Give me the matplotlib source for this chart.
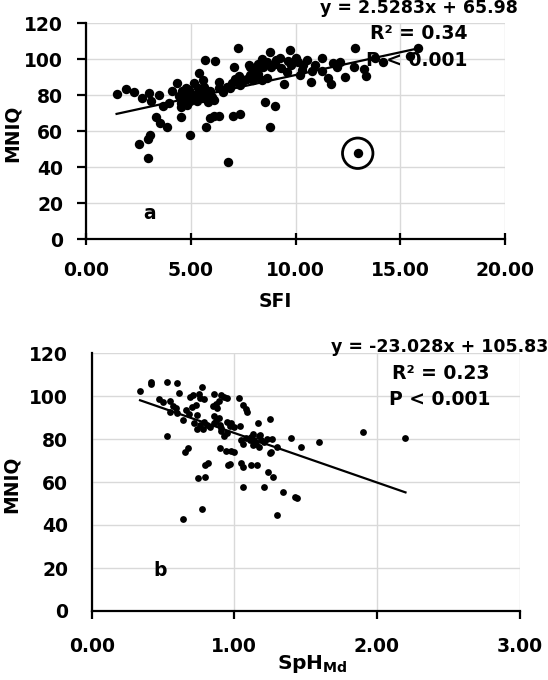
import matplotlib
matplotlib.use("Agg")
import matplotlib.pyplot as plt
import numpy as np

plt.rcParams['font.family'] = ['DejaVu Sans']
plt.rcParams['font.weight'] = 'bold'

# ---------------- Panel a data ----------------
sfi = [1.50, 1.89, 2.29, 2.66, 3.01, 3.12, 3.48, 3.68, 3.95, 4.12, 4.36,
       4.45, 4.55, 4.60, 4.70, 4.75, 4.80, 4.85, 4.95, 4.55, 4.90,
       4.52, 4.98, 5.16, 5.38, 5.68, 6.14, 5.60, 5.62,
       5.20, 5.30, 5.45, 5.55, 5.70, 5.80, 5.90, 6.00, 6.10, 5.35,
       6.36, 6.36, 6.52, 6.71, 6.87, 6.95, 7.06, 7.27, 7.12, 7.30, 7.45, 7.35, 7.55, 7.67, 7.80,
       5.72, 5.90, 6.10, 6.33, 7.03, 7.36, 6.77, 2.97, 2.55, 2.98, 3.05, 3.34, 3.53, 3.86,
       7.83, 7.83, 8.39, 8.78, 9.74, 8.39, 8.63, 9.47, 9.58,
       8.45, 8.65, 8.85, 9.05, 9.25, 9.00, 9.65, 9.80, 8.20, 8.10, 9.30, 10.00, 10.10,
       8.00, 8.20, 7.95,
       10.21, 10.29, 10.37, 10.56, 10.74, 10.77, 10.93, 11.25, 11.25, 11.57, 11.68,
       11.80, 12.12, 11.96, 12.36, 12.84, 12.79, 13.27, 13.36, 13.79, 14.19, 15.47, 15.86,
       8.54, 9.02, 8.78, 12.97]
mniq_a = [80.7, 83.3, 82.0, 78.5, 81.1, 76.6, 80.2, 74.1, 75.8, 82.3, 86.7,
          79.5, 76.0, 82.5, 78.0, 84.0, 74.5, 80.5, 77.0, 73.5, 83.0,
          67.7, 57.9, 87.0, 92.4, 99.6, 98.9, 88.5, 84.5,
          80.0, 77.0, 82.0, 78.5, 80.5, 76.5, 82.5, 79.0, 77.5, 84.0,
          87.6, 83.9, 82.0, 84.4, 83.9, 86.7, 95.9, 106.1, 89.0, 91.0, 87.5, 86.0, 88.5, 88.9, 96.8,
          62.4, 67.5, 68.5, 68.5, 68.3, 69.5, 42.7, 44.9, 52.9, 56.0, 57.7, 67.7, 64.8, 62.4,
          95.9, 91.3, 100.4, 104.3, 105.3, 88.5, 89.4, 86.1, 93.1,
          96.0, 98.5, 96.0, 99.5, 100.5, 97.5, 99.0, 97.0, 97.5, 93.5, 95.0, 100.5, 98.5,
          90.0, 92.0, 88.5,
          91.3, 94.1, 96.8, 99.6, 87.6, 93.5, 96.8, 100.9, 93.5, 89.8, 86.1,
          97.8, 98.7, 95.9, 90.3, 106.5, 95.9, 94.4, 90.9, 100.5, 98.3, 102.0, 106.5,
          76.4, 74.1, 62.2, 47.8]
outlier_a = (12.97, 47.8)
slope_a, icpt_a = 2.5283, 65.98
fit_range_a = (1.46, 15.86)
xticks_a = [0, 5, 10, 15, 20]

# ---------------- Panel b data ----------------
sph = [0.339, 0.414, 0.414, 0.530, 0.596, 0.610,
       0.47, 0.50, 0.55, 0.57, 0.59,
       0.55, 0.60, 0.64, 0.66, 0.68,
       0.69, 0.71, 0.75, 0.771, 0.76, 0.79,
       0.70, 0.73, 0.74, 0.72, 0.76, 0.74, 0.78, 0.79, 0.81, 0.83,
       0.86, 0.89, 0.87, 0.85, 0.88,
       0.91, 0.93, 0.95,
       0.86, 0.89, 0.90, 0.86, 0.87, 0.91,
       0.91, 0.93, 0.95,
       0.95, 0.98, 0.97, 1.00, 1.04,
       1.035, 1.06, 1.08, 1.09,
       1.05, 1.06, 1.08, 1.11, 1.12, 1.13, 1.14, 1.15, 1.17, 1.18, 1.19, 1.21, 1.23, 1.17, 1.13,
       0.90, 0.94, 0.98, 1.00,
       0.958, 0.97, 1.05, 1.06, 1.12, 1.157,
       1.25, 1.168, 1.255, 1.238, 1.274, 1.297, 1.398, 1.468, 1.339, 1.426, 1.437, 1.208, 1.059, 1.297,
       0.526, 0.654, 0.677, 0.795, 0.818, 0.748, 0.795, 0.771, 0.638,
       1.262, 1.596, 1.90, 2.197, 1.25]
mniq_b = [102.3, 106.7, 105.4, 106.7, 105.9, 101.5,
          98.5, 97.0, 97.5, 95.5, 94.5,
          92.5, 92.0, 89.0, 93.5, 91.5,
          99.5, 100.5, 101.0, 104.3, 99.0, 98.5,
          95.0, 96.0, 91.0, 87.5, 86.5, 84.5, 84.5, 88.0, 86.5, 85.5,
          101.0, 97.5, 96.5, 95.5, 94.5,
          100.5, 99.5, 99.0,
          90.5, 90.0, 86.5, 87.5, 88.5, 85.0,
          83.5, 81.5, 83.0,
          88.0, 87.5, 86.0, 85.5, 86.0,
          99.2, 95.8, 94.0, 92.7,
          79.5, 77.5, 80.5, 79.5, 81.0, 82.5, 79.5, 77.5, 81.5, 82.0, 79.5, 78.5, 80.0, 76.5, 77.0,
          76.0, 74.5, 74.5, 74.0,
          67.9, 68.5, 68.7, 66.8, 67.9, 67.9,
          89.2, 87.6, 74.1, 64.5, 62.5, 76.4, 80.6, 76.1, 55.5, 53.2, 52.4, 57.8, 57.8, 44.7,
          81.4, 74.1, 76.0, 67.9, 69.0, 62.0, 62.2, 47.3, 42.7,
          79.9, 78.6, 83.4, 80.6, 73.6]
slope_b, icpt_b = -23.028, 105.83
fit_range_b = (0.339, 2.20)
xticks_b = [0, 1, 2, 3]
yticks = [0, 20, 40, 60, 80, 100, 120]

W, H = 548, 680
fig = plt.figure(figsize=(W / 100, H / 100), dpi=100)

def fbox(l, t, r, b):
    return [l / W, 1 - b / H, (r - l) / W, (b - t) / H]

ax1 = fig.add_axes(fbox(86, 23.3, 505, 239.3))
ax2 = fig.add_axes(fbox(91.7, 353, 519.6, 611))

grid_col = '#d9d9d9'
fs = 13.5

for ax in (ax1, ax2):
    ax.set_ylim(0, 120)
    ax.set_yticks(yticks)
    ax.grid(True, color=grid_col, linewidth=1.0)
    ax.set_axisbelow(True)
    for s in ('top', 'right'):
        ax.spines[s].set_visible(False)
    for s in ('left', 'bottom'):
        ax.spines[s].set_linewidth(1.6)
        ax.spines[s].set_color('black')

# Panel a
ax1.set_xlim(0, 20)
ax1.set_xticks(xticks_a)
ax1.set_xticklabels([f"{v:.2f}" for v in xticks_a], fontsize=fs, fontweight='bold')
ax1.set_yticklabels([str(v) for v in yticks], fontsize=fs, fontweight='bold')
ax1.tick_params(axis='y', direction='out', length=6.5, width=1.6, pad=10)
ax1.tick_params(axis='x', direction='inout', length=9, width=1.6, pad=11)
ax1.scatter(sfi, mniq_a, s=46, color='black', zorder=3, linewidths=0)
xa = np.array(fit_range_a)
ax1.plot(xa, slope_a * xa + icpt_a, color='black', linewidth=1.6, zorder=4)
ax1.scatter([outlier_a[0]], [outlier_a[1]], s=480, facecolors='none',
            edgecolors='black', linewidths=2.0, zorder=4)
ax1.set_ylabel('MNIQ', fontsize=fs, fontweight='bold')
ax1.yaxis.set_label_coords(-0.177, 0.49)
ax1.set_xlabel('SFI', fontsize=fs, fontweight='bold')
ax1.xaxis.set_label_coords(0.451, -0.29)
ax1.xaxis.label.set_va('center')
ax1.yaxis.label.set_va('center')
ax1.text(0.794, 1.071, 'y = 2.5283x + 65.98', transform=ax1.transAxes,
         ha='center', va='center', fontsize=12.5, fontweight='bold', clip_on=False)
ax1.text(0.794, 0.955, 'R² = 0.34', transform=ax1.transAxes,
         ha='center', va='center', fontsize=fs, fontweight='bold')
ax1.text(0.79, 0.829, 'P < 0.001', transform=ax1.transAxes,
         ha='center', va='center', fontsize=fs, fontweight='bold')
ax1.text(3.05, 14.6, 'a', ha='center', va='center', fontsize=fs, fontweight='bold')

# Panel b
ax2.set_xlim(0, 3)
ax2.set_xticks(xticks_b)
ax2.set_xticklabels([f"{v:.2f}" for v in xticks_b], fontsize=fs, fontweight='bold')
ax2.set_yticklabels([str(v) for v in yticks], fontsize=fs, fontweight='bold')
ax2.tick_params(axis='y', direction='out', length=0, width=1.6, pad=17)
ax2.tick_params(axis='x', direction='out', length=6, width=1.6, pad=13)
ax2.scatter(sph, mniq_b, s=24, color='black', zorder=3, linewidths=0)
xb = np.array(fit_range_b)
ax2.plot(xb, slope_b * xb + icpt_b, color='black', linewidth=1.6, zorder=4)
ax2.set_ylabel('MNIQ', fontsize=fs, fontweight='bold')
ax2.yaxis.set_label_coords(-0.187, 0.49)
ax2.set_xlabel(r'$\mathbf{SpH}_{\mathbf{Md}}$', fontsize=fs + 1)
ax2.xaxis.set_label_coords(0.515, -0.205)
ax2.xaxis.label.set_va('center')
ax2.yaxis.label.set_va('center')
ax2.text(0.814, 1.023, 'y = -23.028x + 105.83', transform=ax2.transAxes,
         ha='center', va='center', fontsize=12.5, fontweight='bold', clip_on=False)
ax2.text(0.816, 0.922, 'R² = 0.23', transform=ax2.transAxes,
         ha='center', va='center', fontsize=fs, fontweight='bold')
ax2.text(0.814, 0.818, 'P < 0.001', transform=ax2.transAxes,
         ha='center', va='center', fontsize=fs, fontweight='bold')
ax2.text(0.479, 18.7, 'b', ha='center', va='center', fontsize=fs, fontweight='bold')

fig.savefig('out.png', dpi=100)
